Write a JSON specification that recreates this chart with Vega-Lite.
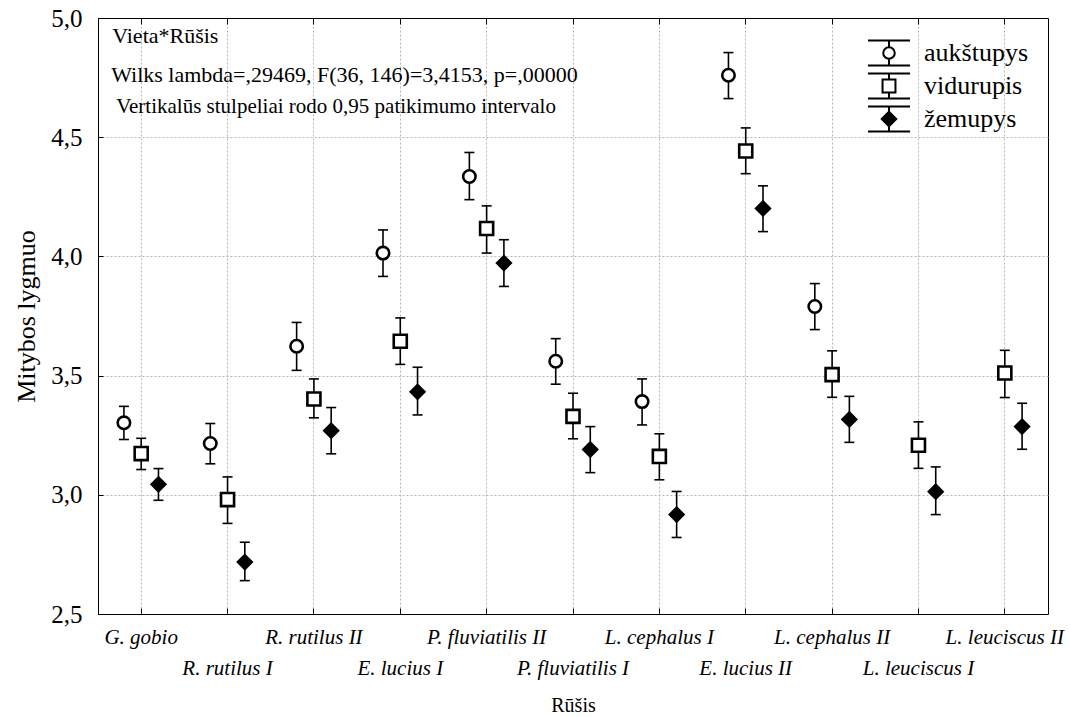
{
  "$schema": "https://vega.github.io/schema/vega-lite/v6.json",
  "width": 950,
  "height": 596,
  "autosize": {"type": "none"},
  "padding": {"left": 98, "top": 18, "right": 22, "bottom": 103},
  "background": "white",
  "config": {
    "view": {"stroke": "black", "strokeWidth": 1},
    "font": "Liberation Serif",
    "axis": {"labelFont": "Liberation Serif", "titleFont": "Liberation Serif", "labelColor": "black", "titleColor": "black", "domainColor": "black", "tickColor": "black"},
    "legend": {"rowPadding": -3}
  },
  "datasets": {
    "means": [
      {"species": "G. gobio", "series": "aukštupys", "mean": 3.302, "lo": 3.232, "hi": 3.371},
      {"species": "G. gobio", "series": "vidurupis", "mean": 3.173, "lo": 3.106, "hi": 3.237},
      {"species": "G. gobio", "series": "žemupys", "mean": 3.044, "lo": 2.977, "hi": 3.110},
      {"species": "R. rutilus I", "series": "aukštupys", "mean": 3.215, "lo": 3.130, "hi": 3.299},
      {"species": "R. rutilus I", "series": "vidurupis", "mean": 2.980, "lo": 2.880, "hi": 3.075},
      {"species": "R. rutilus I", "series": "žemupys", "mean": 2.718, "lo": 2.640, "hi": 2.801},
      {"species": "R. rutilus II", "series": "aukštupys", "mean": 3.623, "lo": 3.522, "hi": 3.723},
      {"species": "R. rutilus II", "series": "vidurupis", "mean": 3.402, "lo": 3.323, "hi": 3.486},
      {"species": "R. rutilus II", "series": "žemupys", "mean": 3.269, "lo": 3.172, "hi": 3.366},
      {"species": "E. lucius I", "series": "aukštupys", "mean": 4.014, "lo": 3.916, "hi": 4.111},
      {"species": "E. lucius I", "series": "vidurupis", "mean": 3.644, "lo": 3.547, "hi": 3.742},
      {"species": "E. lucius I", "series": "žemupys", "mean": 3.432, "lo": 3.335, "hi": 3.535},
      {"species": "P. fluviatilis II", "series": "aukštupys", "mean": 4.335, "lo": 4.238, "hi": 4.436},
      {"species": "P. fluviatilis II", "series": "vidurupis", "mean": 4.117, "lo": 4.014, "hi": 4.212},
      {"species": "P. fluviatilis II", "series": "žemupys", "mean": 3.972, "lo": 3.874, "hi": 4.070},
      {"species": "P. fluviatilis I", "series": "aukštupys", "mean": 3.560, "lo": 3.464, "hi": 3.655},
      {"species": "P. fluviatilis I", "series": "vidurupis", "mean": 3.329, "lo": 3.235, "hi": 3.426},
      {"species": "P. fluviatilis I", "series": "žemupys", "mean": 3.190, "lo": 3.093, "hi": 3.286},
      {"species": "L. cephalus I", "series": "aukštupys", "mean": 3.391, "lo": 3.293, "hi": 3.486},
      {"species": "L. cephalus I", "series": "vidurupis", "mean": 3.161, "lo": 3.063, "hi": 3.256},
      {"species": "L. cephalus I", "series": "žemupys", "mean": 2.917, "lo": 2.821, "hi": 3.014},
      {"species": "E. lucius II", "series": "aukštupys", "mean": 4.760, "lo": 4.662, "hi": 4.855},
      {"species": "E. lucius II", "series": "vidurupis", "mean": 4.442, "lo": 4.347, "hi": 4.539},
      {"species": "E. lucius II", "series": "žemupys", "mean": 4.201, "lo": 4.104, "hi": 4.296},
      {"species": "L. cephalus II", "series": "aukštupys", "mean": 3.790, "lo": 3.693, "hi": 3.886},
      {"species": "L. cephalus II", "series": "vidurupis", "mean": 3.504, "lo": 3.409, "hi": 3.604},
      {"species": "L. cephalus II", "series": "žemupys", "mean": 3.316, "lo": 3.220, "hi": 3.413},
      {"species": "L. leuciscus I", "series": "vidurupis", "mean": 3.208, "lo": 3.111, "hi": 3.306},
      {"species": "L. leuciscus I", "series": "žemupys", "mean": 3.013, "lo": 2.917, "hi": 3.117},
      {"species": "L. leuciscus II", "series": "vidurupis", "mean": 3.511, "lo": 3.408, "hi": 3.606},
      {"species": "L. leuciscus II", "series": "žemupys", "mean": 3.286, "lo": 3.191, "hi": 3.384}
    ]
  },
  "resolve": {
    "scale": {"shape": "independent", "fill": "independent", "size": "independent", "stroke": "independent"},
    "axis": {"x": "independent", "y": "independent"}
  },
  "layer": [
    {
      "data": {"name": "means"},
      "mark": {"type": "rule", "color": "black", "strokeWidth": 1.6},
      "encoding": {
        "x": {
          "field": "species", "type": "nominal",
          "scale": {"type": "band", "domain": ["G. gobio", "R. rutilus I", "R. rutilus II", "E. lucius I", "P. fluviatilis II", "P. fluviatilis I", "L. cephalus I", "E. lucius II", "L. cephalus II", "L. leuciscus I", "L. leuciscus II"], "paddingInner": 0, "paddingOuter": 0},
          "axis": {
            "orient": "bottom", "title": "Rūšis", "titleFontSize": 20, "titleFontWeight": "normal", "titlePadding": 17,
            "labelFontStyle": "italic", "labelFontSize": 21, "labelAngle": 0, "labelLineHeight": 31, "labelPadding": 18,
            "labelBaseline": "top", "labelAlign": "center",
            "labelExpr": "indexof(['R. rutilus I','E. lucius I','P. fluviatilis I','E. lucius II','L. leuciscus I'], datum.value) >= 0 ? ['', datum.label] : datum.label",
            "labelOverlap": false, "labelBound": false, "labelFlush": false,
            "ticks": true, "tickSize": -6, "tickWidth": 1,
            "grid": true, "gridColor": "#b5b5b5", "gridDash": [2, 2], "gridWidth": 1,
            "bandPosition": 0.5, "domain": true
          }
        },
        "xOffset": {"field": "series", "type": "nominal", "scale": {"domain": ["aukštupys", "vidurupis", "žemupys"], "paddingInner": 0, "paddingOuter": 1.823}},
        "y": {
          "field": "lo", "type": "quantitative",
          "scale": {"domain": [2.5, 5], "nice": false, "zero": false},
          "axis": {
            "orient": "left", "title": "Mitybos lygmuo", "titleFontSize": 26, "titleFontWeight": "normal", "titlePadding": 11,
            "labelFontSize": 25, "labelPadding": 21, "labelFlush": false, "labelOverlap": false, "labelBound": false,
            "labelExpr": "replace(format(datum.value, '.1f'), '.', ',')",
            "values": [2.5, 3, 3.5, 4, 4.5, 5],
            "ticks": true, "tickSize": -5,
            "grid": true, "gridColor": "#b5b5b5", "gridDash": [2, 2], "gridWidth": 1
          }
        },
        "y2": {"field": "hi"}
      }
    },
    {
      "data": {"name": "means"},
      "mark": {"type": "tick", "color": "black", "thickness": 1.6, "size": 10, "opacity": 1},
      "encoding": {
        "x": {
          "field": "species", "type": "nominal",
          "scale": {"type": "band", "domain": ["G. gobio", "R. rutilus I", "R. rutilus II", "E. lucius I", "P. fluviatilis II", "P. fluviatilis I", "L. cephalus I", "E. lucius II", "L. cephalus II", "L. leuciscus I", "L. leuciscus II"], "paddingInner": 0, "paddingOuter": 0},
          "axis": {"orient": "top", "title": null, "labels": false, "grid": false, "ticks": true, "tickSize": -6, "bandPosition": 0.5, "domain": true}
        },
        "xOffset": {"field": "series", "type": "nominal", "scale": {"domain": ["aukštupys", "vidurupis", "žemupys"], "paddingInner": 0, "paddingOuter": 1.823}},
        "y": {"field": "lo", "type": "quantitative", "scale": {"domain": [2.5, 5], "nice": false, "zero": false}, "axis": null}
      }
    },
    {
      "data": {"name": "means"},
      "mark": {"type": "tick", "color": "black", "thickness": 1.6, "size": 10, "opacity": 1},
      "encoding": {
        "x": {"field": "species", "type": "nominal", "scale": {"type": "band", "domain": ["G. gobio", "R. rutilus I", "R. rutilus II", "E. lucius I", "P. fluviatilis II", "P. fluviatilis I", "L. cephalus I", "E. lucius II", "L. cephalus II", "L. leuciscus I", "L. leuciscus II"], "paddingInner": 0, "paddingOuter": 0}, "axis": null},
        "xOffset": {"field": "series", "type": "nominal", "scale": {"domain": ["aukštupys", "vidurupis", "žemupys"], "paddingInner": 0, "paddingOuter": 1.823}},
        "y": {"field": "hi", "type": "quantitative", "scale": {"domain": [2.5, 5], "nice": false, "zero": false}, "axis": null}
      }
    },
    {
      "data": {"name": "means"},
      "mark": {"type": "point", "filled": true, "opacity": 1, "stroke": "black", "strokeWidth": 2.6},
      "encoding": {
        "x": {"field": "species", "type": "nominal", "scale": {"type": "band", "domain": ["G. gobio", "R. rutilus I", "R. rutilus II", "E. lucius I", "P. fluviatilis II", "P. fluviatilis I", "L. cephalus I", "E. lucius II", "L. cephalus II", "L. leuciscus I", "L. leuciscus II"], "paddingInner": 0, "paddingOuter": 0}, "axis": null},
        "xOffset": {"field": "series", "type": "nominal", "scale": {"domain": ["aukštupys", "vidurupis", "žemupys"], "paddingInner": 0, "paddingOuter": 1.823}},
        "y": {"field": "mean", "type": "quantitative", "scale": {"domain": [2.5, 5], "nice": false, "zero": false}, "axis": null},
        "shape": {"field": "series", "type": "nominal", "scale": {"domain": ["aukštupys", "vidurupis", "žemupys"], "range": ["circle", "square", "diamond"]}, "legend": null},
        "fill": {"field": "series", "type": "nominal", "scale": {"domain": ["aukštupys", "vidurupis", "žemupys"], "range": ["white", "white", "black"]}, "legend": null},
        "size": {"field": "series", "type": "nominal", "scale": {"domain": ["aukštupys", "vidurupis", "žemupys"], "range": [155, 185, 125]}, "legend": null}
      }
    },
    {
      "data": {"name": "means"},
      "transform": [{"filter": "false"}],
      "mark": {"type": "point", "filled": true, "opacity": 1, "strokeWidth": 2},
      "encoding": {
        "shape": {
          "field": "series", "type": "nominal",
          "scale": {"domain": ["aukštupys", "vidurupis", "žemupys"], "range": [
            "M-1.42,-0.845H1.42M0,-0.845V-0.39M0,0.39V0.845M-1.42,0.845H1.42M0.39,0C0.39,0.215,0.215,0.39,0,0.39C-0.215,0.39,-0.39,0.215,-0.39,0C-0.39,-0.215,-0.215,-0.39,0,-0.39C0.215,-0.39,0.39,-0.215,0.39,0Z",
            "M-1.42,-0.845H1.42M0,-0.845V-0.437M0,0.437V0.845M-1.42,0.845H1.42M-0.437,-0.437H0.437V0.437H-0.437Z",
            "M-1.42,-0.845H1.42M0,-0.845V0.845M-1.42,0.845H1.42M0,-0.49L0.49,0L0,0.49L-0.49,0Z"
          ]},
          "legend": {"title": null, "orient": "none", "legendX": 775, "legendY": 19, "padding": 0, "symbolSize": 876, "symbolStrokeWidth": 2, "symbolStrokeColor": "black", "symbolOpacity": 1, "labelFont": "Liberation Serif", "labelFontSize": 26, "labelColor": "black", "labelOffset": 19, "rowPadding": -3}
        },
        "fill": {
          "field": "series", "type": "nominal",
          "scale": {"domain": ["aukštupys", "vidurupis", "žemupys"], "range": ["white", "white", "black"]},
          "legend": {"title": null, "orient": "none", "legendX": 775, "legendY": 19, "padding": 0, "symbolSize": 876, "symbolStrokeWidth": 2, "symbolStrokeColor": "black", "symbolOpacity": 1, "labelFont": "Liberation Serif", "labelFontSize": 26, "labelColor": "black", "labelOffset": 19, "rowPadding": -3}
        },
        "stroke": {
          "field": "series", "type": "nominal",
          "scale": {"domain": ["aukštupys", "vidurupis", "žemupys"], "range": ["black", "black", "black"]},
          "legend": {"title": null, "orient": "none", "legendX": 775, "legendY": 19, "padding": 0, "symbolSize": 876, "symbolStrokeWidth": 2, "symbolStrokeColor": "black", "symbolOpacity": 1, "labelFont": "Liberation Serif", "labelFontSize": 26, "labelColor": "black", "labelOffset": 19, "rowPadding": -3}
        }
      }
    },
    {
      "data": {"values": [{"note": "Vieta*Rūšis"}]},
      "mark": {"type": "text", "align": "left", "baseline": "alphabetic", "dx": -29, "font": "Liberation Serif", "fontSize": 22, "color": "black"},
      "encoding": {
        "x": {"datum": "G. gobio", "type": "nominal", "scale": {"type": "band", "domain": ["G. gobio", "R. rutilus I", "R. rutilus II", "E. lucius I", "P. fluviatilis II", "P. fluviatilis I", "L. cephalus I", "E. lucius II", "L. cephalus II", "L. leuciscus I", "L. leuciscus II"], "paddingInner": 0, "paddingOuter": 0}, "axis": null},
        "y": {"datum": 4.896, "type": "quantitative", "scale": {"domain": [2.5, 5], "nice": false, "zero": false}, "axis": null},
        "text": {"field": "note", "type": "nominal"}
      }
    },
    {
      "data": {"values": [{"note": "Wilks lambda=,29469, F(36, 146)=3,4153, p=,00000"}]},
      "mark": {"type": "text", "align": "left", "baseline": "alphabetic", "dx": -30, "font": "Liberation Serif", "fontSize": 22, "color": "black"},
      "encoding": {
        "x": {"datum": "G. gobio", "type": "nominal", "scale": {"type": "band", "domain": ["G. gobio", "R. rutilus I", "R. rutilus II", "E. lucius I", "P. fluviatilis II", "P. fluviatilis I", "L. cephalus I", "E. lucius II", "L. cephalus II", "L. leuciscus I", "L. leuciscus II"], "paddingInner": 0, "paddingOuter": 0}, "axis": null},
        "y": {"datum": 4.732, "type": "quantitative", "scale": {"domain": [2.5, 5], "nice": false, "zero": false}, "axis": null},
        "text": {"field": "note", "type": "nominal"}
      }
    },
    {
      "data": {"values": [{"note": "Vertikalūs stulpeliai rodo 0,95 patikimumo intervalo"}]},
      "mark": {"type": "text", "align": "left", "baseline": "alphabetic", "dx": -25, "font": "Liberation Serif", "fontSize": 21, "color": "black"},
      "encoding": {
        "x": {"datum": "G. gobio", "type": "nominal", "scale": {"type": "band", "domain": ["G. gobio", "R. rutilus I", "R. rutilus II", "E. lucius I", "P. fluviatilis II", "P. fluviatilis I", "L. cephalus I", "E. lucius II", "L. cephalus II", "L. leuciscus I", "L. leuciscus II"], "paddingInner": 0, "paddingOuter": 0}, "axis": null},
        "y": {"datum": 4.602, "type": "quantitative", "scale": {"domain": [2.5, 5], "nice": false, "zero": false}, "axis": null},
        "text": {"field": "note", "type": "nominal"}
      }
    }
  ]
}
